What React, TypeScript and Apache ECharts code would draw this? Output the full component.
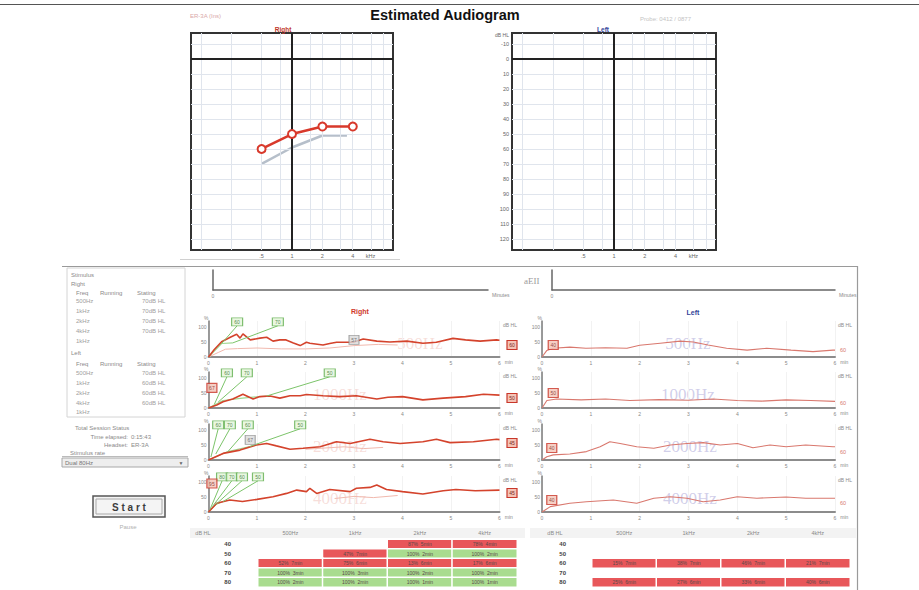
import { useEffect, useRef } from 'react';
import * as echarts from 'echarts';

const FONT = '"Liberation Sans", Arial, Helvetica, sans-serif';
const SERIF = '"Liberation Serif", "DejaVu Serif", serif';

// ---------- Estimated audiogram ----------
const audFreqs = [500, 1000, 2000, 4000];
const rightThresholdDb = [60, 50, 45, 45];
const rightUncorrectedFreqs = [500, 1000, 2000, 3500];
const rightUncorrectedDb = [70, 59, 51, 51];
const audDbTicks = [-10, 0, 10, 20, 30, 40, 50, 60, 70, 80, 90, 100, 110, 120];
const audGridFreqs = [125, 250, 500, 750, 1000, 1500, 2000, 3000, 4000, 6000, 8000];
const audLabelFreqs = [500, 1000, 2000, 4000, 6000];
const audLabelText = ['.5', '1', '2', '4', 'kHz'];

// ---------- Response traces: [minutes, % detection] ----------
const traceFreqNames = ['500Hz', '1000Hz', '2000Hz', '4000Hz'];

const right500 = [[0, 0], [0.12, 25], [0.27, 51], [0.45, 66], [0.58, 76], [0.65, 63], [0.71, 77], [0.86, 57], [1.06, 63], [1.2, 66], [1.33, 53], [1.47, 57], [1.6, 57], [1.75, 47], [1.89, 38], [2.02, 49], [2.09, 46], [2.36, 40], [2.5, 45], [2.64, 49], [2.98, 49], [3.19, 60], [3.47, 53], [3.74, 50], [4.09, 53], [4.42, 46], [4.7, 49], [5.04, 62], [5.3, 57], [5.6, 53], [5.94, 57], [6, 56]];
const right1000 = [[0, 0], [0.17, 10], [0.3, 21], [0.5, 30], [0.71, 46], [0.92, 30], [1.06, 38], [1.27, 40], [1.47, 33], [1.68, 41], [1.89, 41], [2.02, 45], [2.36, 41], [2.7, 38], [3.05, 41], [3.47, 30], [3.7, 36], [4.0, 38], [4.42, 27], [4.84, 33], [5.3, 38], [5.67, 46], [6, 43]];
const right2000 = [[0, 0], [0.3, 22], [0.65, 33], [0.99, 50], [1.2, 55], [1.4, 47], [1.68, 36], [1.95, 39], [2.3, 44], [2.64, 61], [2.92, 55], [3.33, 69], [3.6, 61], [3.95, 55], [4.42, 61], [4.7, 69], [4.98, 58], [5.46, 61], [5.94, 69], [6, 68]];
const right4000 = [[0, 0], [0.17, 29], [0.44, 40], [0.7, 35], [1, 42], [1.33, 51], [1.61, 62], [1.82, 73], [2.02, 68], [2.09, 79], [2.23, 62], [2.5, 75], [2.92, 68], [3.05, 79], [3.33, 82], [3.47, 90], [3.67, 75], [4, 68], [4.42, 60], [4.84, 71], [5.1, 75], [5.5, 71], [6, 73]];

const rightNoise500 = [[0, 0], [0.2, 15], [0.35, 26], [0.6, 28], [1, 30], [1.5, 27], [2, 27], [2.5, 30], [3, 38], [3.5, 42], [3.9, 40]];
const rightNoise2000 = [[2, 36], [2.4, 40], [2.8, 44], [3.2, 38], [3.6, 42]];
const rightNoise4000 = [[2.6, 45], [3.0, 52], [3.4, 48], [3.9, 55]];

const left500 = [[0, 0], [0.1, 22], [0.23, 29], [0.57, 33], [0.9, 29], [1.3, 31], [1.74, 29], [2.0, 39], [2.42, 46], [2.83, 53], [3.1, 50], [3.4, 40], [3.78, 29], [4.2, 23], [4.6, 29], [5.1, 23], [5.55, 18], [5.96, 23], [6, 23]];
const left1000 = [[0, 0], [0.1, 25], [0.3, 30], [0.8, 27], [1.3, 30], [1.8, 25], [2.4, 28], [3, 26], [3.5, 30], [4, 25], [4.5, 23], [5, 27], [5.5, 25], [6, 22]];
const left2000 = [[0, 0], [0.1, 11], [0.23, 17], [0.57, 20], [0.91, 28], [1.19, 44], [1.39, 61], [1.6, 55], [1.94, 44], [2.29, 39], [2.63, 50], [2.97, 55], [3.3, 58], [3.65, 50], [4.0, 55], [4.32, 41], [4.67, 50], [5.0, 44], [5.4, 50], [5.96, 44], [6, 44]];
const left4000 = [[0, 0], [0.17, 18], [0.57, 29], [0.91, 34], [1.46, 40], [1.94, 29], [2.29, 46], [2.63, 51], [2.97, 46], [3.3, 34], [3.65, 40], [4.0, 51], [4.4, 46], [5.0, 50], [5.4, 46], [6, 46]];

// green presentation-level flags (right ear): label, flag time, start of leader
const rightGreenRamps = [
  [[0, 0], [0.27, 45], [0.5, 47]],
  [[0, 0], [0.3, 25], [0.7, 33], [1.2, 40]],
  [[0, 0], [0.4, 28], [0.85, 45]],
  [[0, 0], [0.15, 25], [0.3, 35]],
];
const rightFlagLevels = [['60', '70'], ['60', '70', '50'], ['60', '70', '60', '50'], ['80', '70', '60', '50']];
const rightFlagTimes = [[0.59, 1.43], [0.38, 0.79, 2.5], [0.2, 0.44, 0.81, 1.89], [0.28, 0.48, 0.69, 1.02]];
const rightFlagFrom = [
  [[0.27, 45], [0.5, 47]],
  [[0.12, 12], [0.2, 20], [1.2, 40]],
  [[0.05, 10], [0.15, 20], [0.4, 28], [0.85, 45]],
  [[0.03, 8], [0.08, 18], [0.15, 25], [0.3, 35]],
];
const FLAG_LEVEL = 117;

// detection markers on the traces
const rightMarkerT = [3.0, 0.07, 0.86, 0.07];
const rightMarkerV = [57, 67, 67, 95];
const rightMarkerGray = [true, false, true, false];
const leftMarkerT = [0.23, 0.23, 0.2, 0.2];
const leftMarkerV = [40, 50, 40, 40];

// estimated thresholds per trace (dB HL)
const rightEndDb = ['60', '50', '45', '45'];
const leftEndDb = ['60', '60', '60', '60'];

// ---------- Pass / fail tables ----------
const tableFreqs = ['500Hz', '1kHz', '2kHz', '4kHz'];
const tableLevels = ['40', '50', '60', '70', '80'];
// [freq index, level index, pass (1) / refer (0), cell text]
const rightCells: [number, number, number, string][] = [
  [2, 0, 0, '87%  5min'], [3, 0, 0, '78%  4min'],
  [1, 1, 0, '47%  7min'], [2, 1, 1, '100%  2min'], [3, 1, 1, '100%  2min'],
  [0, 2, 0, '52%  7min'], [1, 2, 0, '75%  6min'], [2, 2, 0, '13%  6min'], [3, 2, 0, '17%  6min'],
  [0, 3, 1, '100%  3min'], [1, 3, 1, '100%  3min'], [2, 3, 1, '100%  2min'], [3, 3, 1, '100%  2min'],
  [0, 4, 1, '100%  2min'], [1, 4, 1, '100%  2min'], [2, 4, 1, '100%  1min'], [3, 4, 1, '100%  1min'],
];
const leftCells: [number, number, number, string][] = [
  [0, 2, 0, '15%  7min'], [1, 2, 0, '38%  7min'], [2, 2, 0, '46%  7min'], [3, 2, 0, '21%  7min'],
  [0, 4, 0, '25%  6min'], [1, 4, 0, '27%  6min'], [2, 4, 0, '33%  6min'], [3, 4, 0, '40%  6min'],
];

// ---------- Stimulus status panel ----------
const panelFreqs = ['500Hz', '1kHz', '2kHz', '4kHz', '1kHz'];
const panelRightStatus = ['70dB HL', '70dB HL', '70dB HL', '70dB HL', ''];
const panelLeftStatus = ['70dB HL', '60dB HL', '60dB HL', '60dB HL', ''];

// ---------- layout ----------
const ZERO_Y = [357, 408, 460, 512];
const PCT_MAX = 120;
const TRACE_H = 36;
const COL_LEFT = [208.5, 542];
const COL_WIDTH = [291, 293];
const WATERMARK_X = [[420, 340, 340, 340], [688, 688, 690, 690]];

function txt(text: string, x: number, y: number, o: any = {}) {
  const align = o.align ?? 'left';
  return {
    type: 'text', x, y, silent: true, z: o.z ?? 10,
    style: {
      text, fill: o.fill ?? '#8a8a8a', fontSize: o.size ?? 6, fontFamily: o.family ?? FONT,
      fontWeight: o.weight ?? 'normal', textAlign: align, align,
      textVerticalAlign: 'middle', verticalAlign: 'middle',
    },
  };
}
function hline(x1: number, x2: number, y: number, stroke: string, w = 1) {
  return { type: 'line', silent: true, shape: { x1, y1: y, x2, y2: y }, style: { stroke, lineWidth: w } };
}
function vline(x: number, y1: number, y2: number, stroke: string, w = 1) {
  return { type: 'line', silent: true, shape: { x1: x, y1, x2: x, y2 }, style: { stroke, lineWidth: w } };
}

function buildOption() {
  const grid: any[] = [];
  const xAxis: any[] = [];
  const yAxis: any[] = [];
  const series: any[] = [];
  const graphic: any[] = [];
  const visualMap: any[] = [];

  // ---- audiograms (grid 0 = right ear, grid 1 = left ear)
  const audLabelLogs = audLabelFreqs.map((f) => Math.log10(f));
  const audPanels = [
    { left: 191, width: 202, yLabels: false },
    { left: 512, width: 204, yLabels: true },
  ];
  audPanels.forEach((p, i) => {
    grid.push({ left: p.left, top: 33, width: p.width, height: 217, show: true, borderColor: '#333', borderWidth: 2, backgroundColor: '#fff' });
    xAxis.push({
      gridIndex: i, type: 'value', min: 2, max: 4,
      axisLine: { show: false }, axisTick: { show: false }, splitLine: { show: false },
      axisLabel: {
        customValues: audLabelLogs, fontSize: 5.5, color: '#666', margin: 3,
        formatter: (v: number) => {
          const k = audLabelLogs.findIndex((l) => Math.abs(l - v) < 1e-4);
          return k >= 0 ? audLabelText[k] : '';
        },
      },
    });
    yAxis.push({
      gridIndex: i, type: 'value', inverse: true, min: -17.5, max: 127.5,
      axisLine: { show: false }, axisTick: { show: false }, splitLine: { show: false },
      axisLabel: { show: p.yLabels, customValues: audDbTicks, fontSize: 5.5, color: '#666', margin: 3 },
    });
    series.push({
      type: 'line', xAxisIndex: i, yAxisIndex: i, data: [[3, 0]], showSymbol: false, silent: true, z: 1,
      lineStyle: { opacity: 0 },
      markLine: {
        silent: true, symbol: 'none', label: { show: false },
        lineStyle: { color: '#e0e5ed', width: 1, type: 'solid' },
        emphasis: { disabled: true },
        data: [
          ...audGridFreqs.map((f) => ({ xAxis: Math.log10(f) })),
          ...audDbTicks.map((d) => ({ yAxis: d })),
        ],
      },
    });
    series.push({
      type: 'line', xAxisIndex: i, yAxisIndex: i, data: [[3, 0]], showSymbol: false, silent: true, z: 2,
      lineStyle: { opacity: 0 },
      markLine: {
        silent: true, symbol: 'none', label: { show: false },
        lineStyle: { color: '#222', width: 2, type: 'solid' },
        emphasis: { disabled: true },
        data: [{ xAxis: 3 }, { yAxis: 0 }],
      },
    });
  });
  series.push({
    type: 'line', xAxisIndex: 0, yAxisIndex: 0, z: 4, silent: true, showSymbol: false,
    data: rightUncorrectedFreqs.map((f, k) => [Math.log10(f), rightUncorrectedDb[k]]),
    lineStyle: { color: '#b6bfca', width: 2.5 },
  });
  series.push({
    type: 'line', xAxisIndex: 0, yAxisIndex: 0, z: 5, silent: true,
    data: audFreqs.map((f, k) => [Math.log10(f), rightThresholdDb[k]]),
    symbol: 'circle', symbolSize: 8,
    itemStyle: { color: '#fff', borderColor: '#d8392b', borderWidth: 2 },
    lineStyle: { color: '#d8392b', width: 2.5 },
  });

  // ---- empty progress strips (grid 2, 3)
  const strips = [
    { left: 213, width: 275 },
    { left: 552, width: 283 },
  ];
  strips.forEach((s, k) => {
    const gi = 2 + k;
    grid.push({ left: s.left, top: 270, width: s.width, height: 20 });
    xAxis.push({
      gridIndex: gi, type: 'value', min: 0, max: 6,
      axisLine: { lineStyle: { color: '#666', width: 1.5 } }, axisTick: { show: false }, splitLine: { show: false },
      axisLabel: { customValues: [0], fontSize: 5, color: '#888', margin: 3 },
      name: 'Minutes', nameGap: 4, nameTextStyle: { fontSize: 5, color: '#888', verticalAlign: 'top', padding: [2, 0, 0, 0] },
    });
    yAxis.push({
      gridIndex: gi, type: 'value', min: 0, max: 1,
      axisLine: { show: true, lineStyle: { color: '#666', width: 1.5 } }, axisTick: { show: false },
      axisLabel: { show: false }, splitLine: { show: false },
    });
  });

  // ---- response traces (grids 4..11)
  const traceCols = [
    { data: [right500, right1000, right2000, right4000], color: '#d4432c', lw: 1.6 },
    { data: [left500, left1000, left2000, left4000], color: '#d9786e', lw: 1.1 },
  ];
  const rightNoise = [rightNoise500, null, rightNoise2000, rightNoise4000];
  traceCols.forEach((col, c) => {
    col.data.forEach((trace, r) => {
      const gi = 4 + c * 4 + r;
      grid.push({ left: COL_LEFT[c], top: ZERO_Y[r] - TRACE_H, width: COL_WIDTH[c], height: TRACE_H });
      xAxis.push({
        gridIndex: gi, type: 'value', min: 0, max: 6, interval: 1,
        axisLine: { lineStyle: { color: '#8c8c8c', width: 2 } }, axisTick: { show: false },
        axisLabel: { fontSize: 5, color: '#888', margin: 3 },
        splitLine: { show: true, lineStyle: { color: '#f2f2f2', width: 1 } },
        name: 'min', nameGap: 4, nameTextStyle: { fontSize: 5, color: '#888', verticalAlign: 'top', padding: [2, 0, 0, 0] },
      });
      yAxis.push({
        gridIndex: gi, type: 'value', min: 0, max: PCT_MAX,
        axisLine: { show: true, lineStyle: { color: '#7a7a7a', width: 1.5 } }, axisTick: { show: false },
        axisLabel: { customValues: [0, 50, 100], fontSize: 5, color: '#888', margin: 2 },
        splitLine: { show: false },
        name: '%', nameGap: 1, nameTextStyle: { fontSize: 5, color: '#888', align: 'right' },
      });

      if (c === 0) {
        const noise = rightNoise[r];
        if (noise) {
          series.push({
            type: 'line', xAxisIndex: gi, yAxisIndex: gi, data: noise, showSymbol: false, silent: true, z: 2,
            lineStyle: { color: '#f1b9ae', width: 1 },
          });
        }
        series.push({
          type: 'line', xAxisIndex: gi, yAxisIndex: gi, data: rightGreenRamps[r], showSymbol: false, silent: true, z: 3,
          lineStyle: { color: '#9fd78f', width: 1.1 },
        });
      }
      series.push({
        type: 'line', xAxisIndex: gi, yAxisIndex: gi, data: trace, showSymbol: false, silent: true, z: 4,
        lineStyle: { color: col.color, width: col.lw },
      });
      if (c === 0) {
        const times = rightFlagTimes[r];
        series.push({
          type: 'scatter', xAxisIndex: gi, yAxisIndex: gi, z: 6, silent: true, clip: false,
          data: times.map((t, k) => ({ value: [t, FLAG_LEVEL], name: rightFlagLevels[r][k] })),
          symbol: 'rect', symbolSize: [11, 8],
          itemStyle: { color: '#e4f5d9', borderColor: '#5fae4e', borderWidth: 1 },
          label: { show: true, position: 'inside', formatter: (p: any) => p.name, fontSize: 5, color: '#2f6b25' },
          markLine: {
            silent: true, symbol: 'none', label: { show: false }, emphasis: { disabled: true },
            lineStyle: { color: '#7cc46a', width: 1, type: 'solid' },
            data: rightFlagFrom[r].map((pt, k) => [{ coord: pt }, { coord: [times[k], FLAG_LEVEL - 13] }]),
          },
        });
      }
      const mt = c === 0 ? rightMarkerT[r] : leftMarkerT[r];
      const mv = c === 0 ? rightMarkerV[r] : leftMarkerV[r];
      const gray = c === 0 && rightMarkerGray[r];
      series.push({
        type: 'scatter', xAxisIndex: gi, yAxisIndex: gi, z: 7, silent: true, clip: false,
        data: [{ value: [mt, mv], name: String(mv) }],
        symbol: 'rect', symbolSize: [10, 9],
        itemStyle: gray
          ? { color: '#dadada', borderColor: '#8d8d8d', borderWidth: 1 }
          : { color: '#f4c3b6', borderColor: '#c9372a', borderWidth: 1.2 },
        label: { show: true, position: 'inside', formatter: (p: any) => p.name, fontSize: 5, color: gray ? '#555' : '#7a2a20' },
      });

      // faint frequency caption behind each trace
      graphic.push({
        ...txt(traceFreqNames[r], WATERMARK_X[c][r], ZERO_Y[r] - 14, {
          size: 17, family: SERIF, align: 'center', fill: c === 0 ? 'rgba(232,160,150,0.35)' : 'rgba(170,165,215,0.55)', z: 0,
        }),
      });
      // dB HL readout at the right end of each trace
      const ex = c === 0 ? 512 : 843;
      graphic.push(txt('dB HL', c === 0 ? 510 : 845, ZERO_Y[r] - 32, { size: 5, align: 'center' }));
      if (c === 0) {
        const by = ZERO_Y[r] - [12, 10, 17, 19][r];
        graphic.push({ type: 'rect', silent: true, z: 9, shape: { x: ex - 5, y: by - 4.5, width: 10, height: 9 }, style: { fill: '#f4c3b6', stroke: '#c9372a', lineWidth: 1.2 } });
        graphic.push(txt(rightEndDb[r], ex, by, { size: 5, align: 'center', fill: '#7a2a20' }));
      } else {
        graphic.push(txt(leftEndDb[r], ex, ZERO_Y[r] - [7, 5, 8, 9][r], { size: 5.5, align: 'center', fill: '#d77b70' }));
      }
    });
  });

  // ---- pass / refer tables (grids 12, 13)
  const tables = [
    { left: 258, width: 259, cells: rightCells, rowLabelX: 227, dbX: 203 },
    { left: 592, width: 258, cells: leftCells, rowLabelX: 562, dbX: 555 },
  ];
  tables.forEach((tb, k) => {
    const gi = 12 + k;
    grid.push({ left: tb.left, top: 539.5, width: tb.width, height: 47.5 });
    xAxis.push({
      gridIndex: gi, type: 'category', data: tableFreqs, position: 'top',
      axisLine: { show: false }, axisTick: { show: false }, splitLine: { show: false },
      axisLabel: { fontSize: 5.5, color: '#888', margin: 4 },
    });
    yAxis.push({
      gridIndex: gi, type: 'category', data: tableLevels, inverse: true,
      axisLine: { show: false }, axisTick: { show: false }, splitLine: { show: false },
      axisLabel: { fontSize: 6, fontWeight: 'bold', color: '#444', margin: tb.left - tb.rowLabelX - 4 },
    });
    const si = series.length;
    series.push({
      type: 'heatmap', xAxisIndex: gi, yAxisIndex: gi, silent: true, z: 3,
      data: tb.cells.map((cell) => ({ value: [cell[0], cell[1], cell[2]], name: cell[3] })),
      itemStyle: { borderColor: '#fff', borderWidth: 1.5 },
      label: { show: true, formatter: (p: any) => p.name, fontSize: 5, color: '#5a4a4a' },
    });
    visualMap.push({
      type: 'piecewise', show: false, seriesIndex: si, dimension: 2,
      pieces: [{ value: 0, color: '#e8575a' }, { value: 1, color: '#a9dc8f' }],
    });
    graphic.push({ type: 'rect', silent: true, z: -10, shape: { x: k === 0 ? 190 : 530, y: 528, width: k === 0 ? 335 : 326, height: 10 }, style: { fill: '#f3f3f3' } });
    graphic.push(txt('dB HL', tb.dbX, 533, { size: 5.5, align: 'center' }));
  });

  // ---- headings and frame
  graphic.push(txt('Estimated Audiogram', 445, 15, { size: 14.5, weight: 'bold', fill: '#111', align: 'center' }));
  graphic.push(txt('Right', 283, 29, { size: 6.5, weight: 'bold', fill: '#c0392b', align: 'center' }));
  graphic.push(txt('Left', 603, 29, { size: 6.5, weight: 'bold', fill: '#34449a', align: 'center' }));
  graphic.push(txt('ER-3A (Ins)', 190, 16, { size: 6, fill: '#d9a8a8' }));
  graphic.push(txt('Probe: 0412 / 0877', 640, 19, { size: 6, fill: '#c4c4c4' }));
  graphic.push(txt('dB HL', 502, 35, { size: 5, fill: '#666', align: 'center' }));
  graphic.push(txt('Right', 360, 311, { size: 7, weight: 'bold', fill: '#d0392b', align: 'center' }));
  graphic.push(txt('Left', 693, 312, { size: 7, weight: 'bold', fill: '#34449a', align: 'center' }));
  graphic.push(txt('aEII', 524, 281, { size: 9, family: SERIF, fill: '#9a9a9a' }));

  graphic.push(hline(0, 919, 4.5, '#555', 1));
  graphic.push(hline(180, 400, 259.5, '#d0d0d0', 1));
  graphic.push(hline(62, 858, 266.5, '#9a9a9a', 1.2));
  graphic.push(vline(857.5, 266, 590, '#9a9a9a', 1.2));

  // ---- stimulus status panel
  graphic.push({ type: 'rect', silent: true, shape: { x: 67, y: 268, width: 118, height: 149 }, style: { fill: 'none', stroke: '#d4d4d4', lineWidth: 1 } });
  graphic.push(txt('Stimulus', 71, 275));
  const sections = [
    { title: 'Right', titleY: 284, headY: 293, rowsY: [301, 311, 321, 331, 341], status: panelRightStatus },
    { title: 'Left', titleY: 353, headY: 364, rowsY: [373, 383, 393, 403, 412], status: panelLeftStatus },
  ];
  sections.forEach((s) => {
    graphic.push(txt(s.title, 71, s.titleY));
    graphic.push(txt('Freq', 76, s.headY));
    graphic.push(txt('Running', 100, s.headY));
    graphic.push(txt('Stating', 137, s.headY));
    s.rowsY.forEach((y, k) => {
      graphic.push(txt(panelFreqs[k], 76, y, { fill: '#a0a0a0' }));
      if (s.status[k]) graphic.push(txt(s.status[k], 142, y, { fill: '#a0a0a0' }));
    });
  });
  graphic.push(txt('Total Session Status', 75, 428));
  graphic.push(txt('Time elapsed:', 128, 437, { align: 'right' }));
  graphic.push(txt('0:15:43', 131, 437));
  graphic.push(txt('Headset:', 128, 445, { align: 'right' }));
  graphic.push(txt('ER-3A', 131, 445));
  graphic.push(txt('Stimulus rate', 70, 453));
  graphic.push(hline(62, 188, 456.5, '#bbb', 1));
  graphic.push({ type: 'rect', silent: true, shape: { x: 62, y: 458, width: 126, height: 9 }, style: { fill: '#eeeeee', stroke: '#a8a8a8', lineWidth: 1 } });
  graphic.push(txt('Dual 80Hz', 65, 462.5, { fill: '#777' }));
  graphic.push(txt('▼', 181, 462.5, { size: 5, fill: '#666', align: 'center' }));

  graphic.push({ type: 'rect', silent: true, shape: { x: 93, y: 496, width: 72, height: 21 }, style: { fill: '#f4f4f4', stroke: '#555', lineWidth: 1.5 } });
  graphic.push({ type: 'rect', silent: true, shape: { x: 96, y: 499, width: 66, height: 15 }, style: { fill: 'none', stroke: '#a8a8a8', lineWidth: 1 } });
  graphic.push(txt('S t a r t', 129, 507, { size: 10, weight: 'bold', fill: '#3c3c3c', align: 'center' }));
  graphic.push(txt('Pause', 128, 527, { size: 6, fill: '#b0b0b0', align: 'center' }));

  return {
    animation: false,
    backgroundColor: '#fff',
    textStyle: { fontFamily: FONT },
    grid, xAxis, yAxis, series, visualMap,
    graphic: { elements: graphic },
  };
}

export default function App() {
  const ref = useRef<HTMLDivElement>(null);
  useEffect(() => {
    if (!ref.current) return;
    const chart = echarts.init(ref.current, undefined, { renderer: 'svg' });
    chart.setOption(buildOption() as any);
    return () => chart.dispose();
  }, []);
  return (
    <div
      ref={ref}
      style={{ position: 'fixed', left: 0, top: 0, width: 919, height: 590, background: '#fff' }}
    />
  );
}
